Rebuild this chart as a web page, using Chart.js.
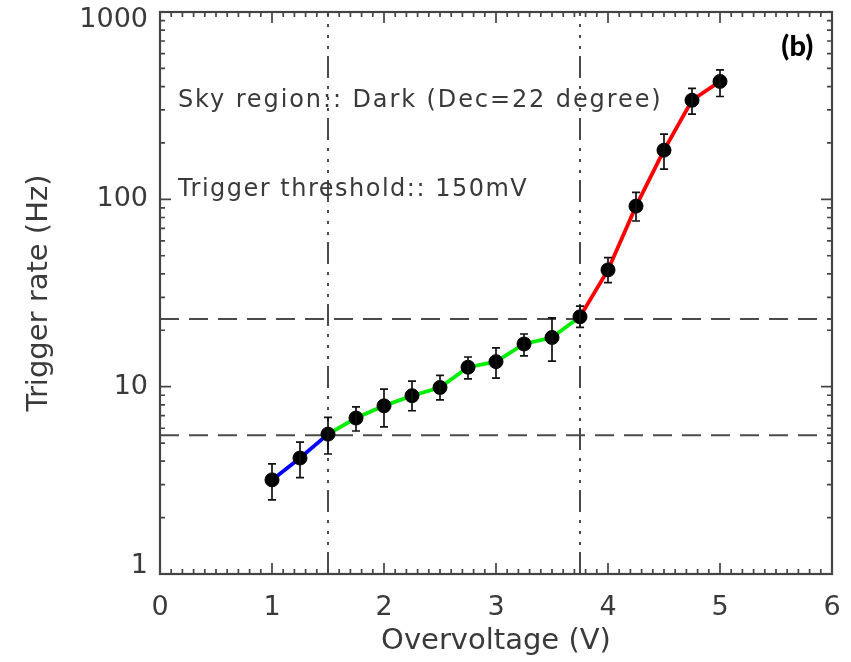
<!DOCTYPE html>
<html>
<head>
<meta charset="utf-8">
<script src="https://cdn.jsdelivr.net/npm/chart.js@4/dist/chart.umd.min.js"></script>
<style>
  html, body { margin: 0; padding: 0; background: #fff; }
  #wrap { width: 851px; height: 662px; }
</style>
</head>
<body>
<div id="wrap"><canvas id="rateChart"></canvas></div>
<script>
// ===============================
// DATA
// ===============================
const overvoltage = [1, 1.25, 1.5, 1.75, 2, 2.25, 2.5, 2.75, 3, 3.25, 3.5, 3.75, 4, 4.25, 4.5, 4.75, 5];
const triggerRate = [3.18, 4.16, 5.58, 6.8, 7.9, 8.95, 9.9, 12.7, 13.6, 16.9, 18.3, 23.6, 42, 92, 183, 338, 426];
const rateHigh    = [3.87, 5.06, 6.85, 7.8, 9.7, 10.7, 11.5, 14.4, 16.1, 19.1, 23.3, 26.9, 48.8, 109, 223, 391, 491];
const rateLow     = [2.49, 3.27, 4.37, 5.8, 6.1, 7.44, 8.5, 11.0, 11.1, 14.6, 13.7, 20.7, 35.9, 76.6, 145, 285, 354];

// segment boundaries (index ranges into the arrays above)
const blueRange  = [0, 2];
const greenRange = [2, 11];
const redRange   = [11, 16];

const thresholdRates = [5.5, 23];   // horizontal dashed lines
const regionEdges    = [1.5, 3.75]; // vertical dash-dot lines

const xTickLabels = [0, 1, 2, 3, 4, 5, 6];
const yTickLabels = [1, 10, 100, 1000];

const FONT = "'DejaVu Sans', sans-serif";
const INK = "#3a3a3a";

// ===============================
// HELPERS
// ===============================
const toPts = (a, b) => overvoltage.slice(a, b + 1).map((x, i) => ({ x, y: triggerRate[a + i] }));

const lineSet = (pts, color, width, dash, order) => ({
  data: pts,
  showLine: true,
  borderColor: color,
  borderWidth: width,
  borderDash: dash,
  pointRadius: 0,
  fill: false,
  order
});

// ===============================
// FRAME / TICKS / ERROR BARS / TEXT PLUGIN
// ===============================
const idlFrame = {
  id: "idlFrame",
  beforeDraw(chart) {
    // nudge the end labels of the log axis inward, IDL style
    const y = chart.scales.y;
    const items = y.getLabelItems ? y.getLabelItems(chart.chartArea) : null;
    if (items && items.length) {
      items[0].options.translation[1] -= 8;
      items[items.length - 1].options.translation[1] += 8;
    }
  },
  afterDatasetsDraw(chart) {
    const { ctx, scales: { x, y } } = chart;

    // error bars
    ctx.save();
    ctx.strokeStyle = "#111";
    ctx.lineWidth = 1.7;
    overvoltage.forEach((v, i) => {
      const px = x.getPixelForValue(v);
      const top = y.getPixelForValue(rateHigh[i]);
      const bot = y.getPixelForValue(rateLow[i]);
      ctx.beginPath();
      ctx.moveTo(px, top); ctx.lineTo(px, bot);
      ctx.moveTo(px - 4, top); ctx.lineTo(px + 4, top);
      ctx.moveTo(px - 4, bot); ctx.lineTo(px + 4, bot);
      ctx.stroke();
    });
    ctx.restore();
  },
  afterDraw(chart) {
    const { ctx, chartArea: a, scales: { x, y } } = chart;
    ctx.save();
    ctx.strokeStyle = "#444";
    ctx.lineWidth = 2.2;
    ctx.strokeRect(a.left, a.top, a.right - a.left, a.bottom - a.top);

    ctx.lineWidth = 1.7;
    ctx.beginPath();
    // x ticks every 0.1, major on integers
    for (let k = 0; k <= 60; k++) {
      const px = x.getPixelForValue(k / 10);
      const len = k % 10 === 0 ? 11 : 5;
      ctx.moveTo(px, a.bottom); ctx.lineTo(px, a.bottom - len);
      ctx.moveTo(px, a.top); ctx.lineTo(px, a.top + len);
    }
    // y log ticks
    for (let d = 1; d <= 100; d *= 10) {
      for (let m = 1; m <= 10; m++) {
        const py = y.getPixelForValue(d * m);
        const len = (m === 1 || m === 10) ? 11 : 5;
        ctx.moveTo(a.left, py); ctx.lineTo(a.left + len, py);
        ctx.moveTo(a.right, py); ctx.lineTo(a.right - len, py);
      }
    }
    ctx.stroke();

    // annotations
    ctx.fillStyle = INK;
    ctx.textBaseline = "middle";
    ctx.textAlign = "left";
    ctx.font = "24px " + FONT;
    ctx.letterSpacing = "1.9px";
    ctx.fillText("Sky region:: Dark (Dec=22 degree)", x.getPixelForValue(0.16), y.getPixelForValue(334));
    ctx.letterSpacing = "1.5px";
    ctx.fillText("Trigger threshold:: 150mV", x.getPixelForValue(0.16), y.getPixelForValue(113));
    ctx.letterSpacing = "0px";
    ctx.fillStyle = "#000";
    ctx.font = "900 29px Lato, sans-serif";
    ctx.textAlign = "center";
    ctx.fillText("(b)", x.getPixelForValue(5.69), y.getPixelForValue(650));
    ctx.restore();
  }
};

// drop the label-overflow padding so the plot box fills the frame
const noPadding = s => { s.paddingTop = 0; s.paddingBottom = 0; s.paddingLeft = 0; s.paddingRight = 0; };

// ===============================
// CHART
// ===============================
new Chart(document.getElementById("rateChart"), {
  type: "scatter",
  data: {
    datasets: [
      {
        data: overvoltage.map((x, i) => ({ x, y: triggerRate[i] })),
        showLine: false,
        pointRadius: 7,
        pointBackgroundColor: "#000",
        pointBorderColor: "#000",
        order: 0
      },
      lineSet(toPts(...blueRange), "#0000ff", 3.8, [], 1),
      lineSet(toPts(...greenRange), "#00ee00", 3.8, [], 1),
      lineSet(toPts(...redRange), "#ff0000", 3.8, [], 1),
      ...thresholdRates.map(t => lineSet([{ x: 0, y: t }, { x: 6, y: t }], "#4a4a4a", 2, [19, 10], 2)),
      ...regionEdges.map(v => lineSet([{ x: v, y: 1 }, { x: v, y: 1000 }], "#4a4a4a", 2, [22, 7, 3, 8, 3, 8, 3, 8], 2))
    ]
  },
  options: {
    responsive: true,
    maintainAspectRatio: false,
    animation: false,
    layout: { padding: { top: 12, right: 19, left: 0, bottom: 0 } },
    plugins: {
      legend: { display: false },
      tooltip: { enabled: false }
    },
    scales: {
      x: {
        type: "linear",
        min: 0,
        max: 6,
        afterFit: s => { s.height = 88; noPadding(s); },
        afterBuildTicks: s => { s.ticks = xTickLabels.map(v => ({ value: v })); },
        grid: { display: false, drawTicks: false },
        border: { display: false },
        ticks: { color: INK, font: { family: FONT, size: 27 }, padding: 18, maxRotation: 0 },
        title: { display: true, text: "Overvoltage (V)", color: INK, font: { family: FONT, size: 29 }, padding: { bottom: 3 } }
      },
      y: {
        type: "logarithmic",
        min: 1,
        max: 1000,
        afterFit: s => { s.width = 160; noPadding(s); },
        afterBuildTicks: s => { s.ticks = yTickLabels.map(v => ({ value: v })); },
        grid: { display: false, drawTicks: false },
        border: { display: false },
        ticks: { color: INK, font: { family: FONT, size: 27 }, padding: 12, autoSkip: false,
                 callback: v => String(v) },
        title: { display: true, text: "Trigger rate (Hz)", color: INK, font: { family: FONT, size: 29 }, padding: { top: 22 } }
      }
    }
  },
  plugins: [idlFrame]
});
</script>
</body>
</html>
